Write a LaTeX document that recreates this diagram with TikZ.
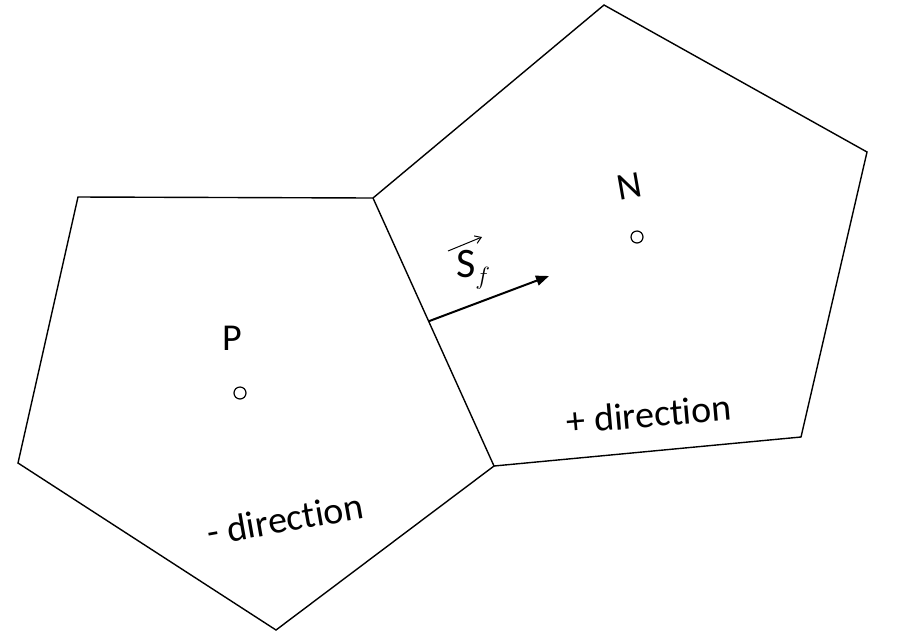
\documentclass[tikz,border=0pt]{standalone}
\usepackage{fontspec}
\setmainfont[Ligatures=NoCommon]{Carlito}
\usetikzlibrary{calc,arrows.meta}
\begin{document}
\begin{tikzpicture}[x=1pt,y=-1pt,
  cell/.style={draw,line width=1.4pt,line join=miter},
  lbl/.style={font=\fontsize{38}{42}\selectfont,inner sep=0pt},
  centre/.style={circle,draw,line width=1.2pt,minimum size=12pt,inner sep=0pt}]
  \useasboundingbox (0,0) rectangle (917,641);
  % cell P
  \coordinate (a) at (78,197);
  \coordinate (b) at (373,198);
  \coordinate (c) at (494,466);
  \coordinate (d) at (276,630);
  \coordinate (e) at (18,463);
  % cell N
  \coordinate (g) at (604,5);
  \coordinate (h) at (867,152);
  \coordinate (k) at (801,437);
  \draw[cell] (a) -- (b) -- (c) -- (d) -- (e) -- cycle;
  \draw[cell] (b) -- (g) -- (h) -- (k) -- (c);
  \node[centre] (p) at (240,393) {};
  \node[centre] (n) at (637,237) {};
  \node[lbl] (plabel) at (232,338) {P};
  \node[lbl,rotate=10] (nlabel) at (629,186) {N};
  \node[lbl,rotate=10] (minus) at (285,519) {- direction};
  \node[lbl,rotate=5] (plus) at (649,414) {+ direction};
  % face vector
  \coordinate (f) at ($(b)!0.46!(c)$);
  \coordinate (tip) at (549,276);
  \draw[-{Triangle[length=13pt,width=10pt]},line width=2pt] (f) -- (tip);
  \node[lbl,font=\fontsize{42}{44}\selectfont] (sf) at (473,270)
    {S\raisebox{-7pt}{\fontsize{36}{38}\selectfont$f$}};
  \draw[-{Straight Barb[length=6pt,width=8pt]},line width=1pt]
    ([shift={(-25,-19)}]sf.center) -- ([shift={(9,-33)}]sf.center);
\end{tikzpicture}
\end{document}
